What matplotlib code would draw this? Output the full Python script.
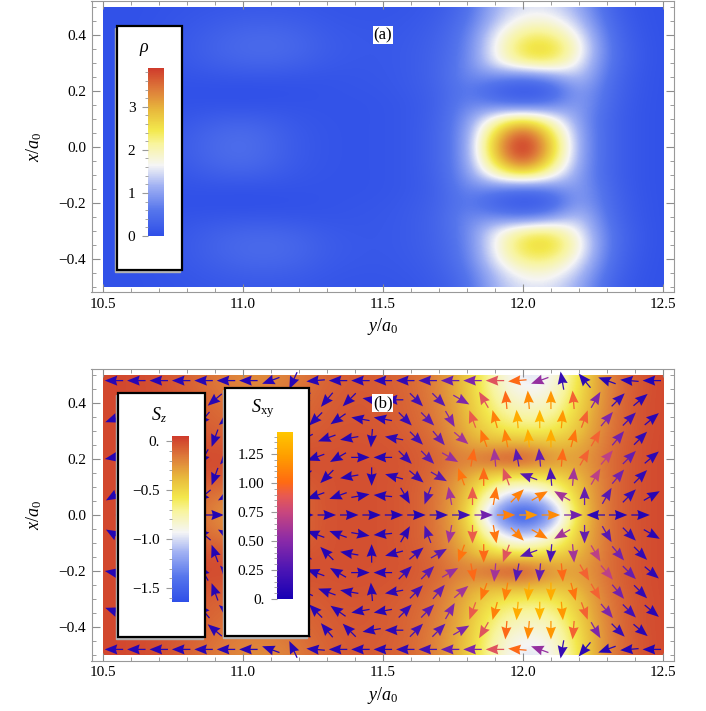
import numpy as np
import matplotlib
matplotlib.use('Agg')
import matplotlib.pyplot as plt
from matplotlib.colors import LinearSegmentedColormap, Normalize
from matplotlib.patches import Rectangle
from matplotlib.ticker import MultipleLocator, FixedLocator

plt.rcParams['font.family'] = ['Liberation Serif', 'DejaVu Serif']
plt.rcParams['mathtext.fontset'] = 'custom'
plt.rcParams['mathtext.rm'] = 'Liberation Serif'
plt.rcParams['mathtext.it'] = 'Liberation Serif:italic'

# ---- field samples (upper half, x = 0.00 ... 0.50 by 0.05) ----
# columns: y = 10.5, 10.6, ..., 12.5
y_cols = [10.5, 10.6, 10.7, 10.8, 10.9, 11.0, 11.1, 11.2, 11.3, 11.4, 11.5,
          11.6, 11.7, 11.8, 11.9, 12.0, 12.1, 12.2, 12.3, 12.4, 12.5]
x_rows = [0.0, 0.05, 0.1, 0.15, 0.2, 0.25, 0.3, 0.35, 0.4, 0.45, 0.5]

rho_upper = [
    [0.05, 0.06, 0.12, 0.25, 0.42, 0.50, 0.35, 0.18, 0.10, 0.08, 0.10, 0.15, 0.35, 0.95, 3.0, 4.3, 2.8, 1.00, 0.35, 0.12, 0.05],
    [0.05, 0.06, 0.11, 0.22, 0.38, 0.45, 0.33, 0.17, 0.10, 0.08, 0.10, 0.15, 0.35, 0.95, 2.7, 3.9, 2.5, 1.00, 0.35, 0.12, 0.05],
    [0.05, 0.05, 0.08, 0.14, 0.24, 0.28, 0.22, 0.13, 0.09, 0.08, 0.10, 0.15, 0.33, 0.90, 1.9, 2.5, 1.8, 0.95, 0.35, 0.12, 0.05],
    [0.05, 0.05, 0.06, 0.07, 0.08, 0.07, 0.08, 0.08, 0.08, 0.08, 0.10, 0.15, 0.30, 0.80, 0.7, 0.5, 0.7, 1.05, 0.40, 0.12, 0.05],
    [0.05, 0.05, 0.05, 0.04, 0.03, 0.02, 0.03, 0.05, 0.08, 0.10, 0.12, 0.18, 0.32, 0.70, 0.25, 0.10, 0.2, 1.10, 0.45, 0.14, 0.05],
    [0.05, 0.05, 0.06, 0.09, 0.12, 0.14, 0.14, 0.12, 0.10, 0.12, 0.14, 0.20, 0.35, 0.80, 0.8, 0.6, 0.9, 1.40, 0.50, 0.15, 0.05],
    [0.05, 0.06, 0.09, 0.16, 0.26, 0.33, 0.34, 0.28, 0.18, 0.14, 0.15, 0.20, 0.35, 0.75, 1.6, 2.2, 2.3, 1.60, 0.60, 0.18, 0.05],
    [0.05, 0.06, 0.10, 0.18, 0.32, 0.42, 0.44, 0.36, 0.22, 0.16, 0.15, 0.20, 0.33, 0.70, 1.7, 2.6, 2.7, 1.80, 0.60, 0.18, 0.05],
    [0.05, 0.06, 0.10, 0.17, 0.28, 0.38, 0.40, 0.33, 0.20, 0.15, 0.14, 0.18, 0.30, 0.65, 1.6, 2.3, 2.3, 1.60, 0.55, 0.15, 0.05],
    [0.05, 0.05, 0.08, 0.13, 0.20, 0.26, 0.27, 0.23, 0.15, 0.12, 0.12, 0.15, 0.25, 0.55, 1.3, 1.8, 1.8, 1.30, 0.45, 0.12, 0.05],
    [0.05, 0.05, 0.07, 0.10, 0.13, 0.16, 0.16, 0.15, 0.11, 0.10, 0.10, 0.12, 0.20, 0.45, 1.2, 1.5, 1.5, 1.10, 0.35, 0.10, 0.05],
]

sz_upper = [
    [0, 0, -0.02, -0.08, -0.20, -0.30, -0.22, -0.10, -0.03, -0.02, -0.03, -0.06, -0.15, -0.45, -1.30, -1.62, -1.30, -0.45, -0.12, -0.03, 0],
    [0, 0, -0.02, -0.07, -0.17, -0.25, -0.20, -0.10, -0.03, -0.02, -0.03, -0.06, -0.15, -0.42, -1.00, -1.30, -1.00, -0.42, -0.12, -0.03, 0],
    [0, 0, -0.02, -0.05, -0.10, -0.13, -0.12, -0.08, -0.03, -0.02, -0.03, -0.06, -0.14, -0.38, -0.75, -0.90, -0.75, -0.40, -0.12, -0.03, 0],
    [0, 0, -0.01, -0.02, -0.03, -0.04, -0.05, -0.04, -0.03, -0.02, -0.03, -0.05, -0.12, -0.30, -0.45, -0.45, -0.45, -0.35, -0.12, -0.03, 0],
    [0, 0, 0, 0, -0.01, -0.01, -0.02, -0.03, -0.03, -0.03, -0.03, -0.05, -0.10, -0.20, -0.05, 0.00, -0.25, -0.30, -0.12, -0.03, 0],
    [0, 0, -0.01, -0.02, -0.04, -0.05, -0.06, -0.05, -0.04, -0.03, -0.04, -0.06, -0.12, -0.30, -0.35, -0.30, -0.40, -0.35, -0.13, -0.03, 0],
    [0, 0, -0.02, -0.04, -0.08, -0.10, -0.10, -0.08, -0.05, -0.04, -0.05, -0.08, -0.15, -0.35, -0.55, -0.60, -0.60, -0.42, -0.15, -0.04, 0],
    [0, 0, -0.02, -0.05, -0.10, -0.13, -0.13, -0.10, -0.06, -0.05, -0.06, -0.09, -0.17, -0.38, -0.65, -0.75, -0.72, -0.45, -0.16, -0.04, 0],
    [0, 0, -0.02, -0.06, -0.12, -0.16, -0.16, -0.12, -0.07, -0.05, -0.06, -0.10, -0.18, -0.40, -0.72, -0.85, -0.82, -0.50, -0.17, -0.04, 0],
    [0, 0, -0.03, -0.07, -0.14, -0.19, -0.19, -0.14, -0.08, -0.06, -0.07, -0.10, -0.20, -0.42, -0.78, -0.95, -0.90, -0.52, -0.18, -0.05, 0],
    [0, 0, -0.03, -0.08, -0.16, -0.22, -0.22, -0.16, -0.09, -0.06, -0.07, -0.11, -0.20, -0.43, -0.80, -1.00, -0.95, -0.55, -0.18, -0.05, 0],
]

# ---- in-plane spin arrows, upper half rows (top row first, last row is x = 0) ----
# angle in degrees (0 = towards +y, 90 = towards +x); even rows 25 arrows, odd rows 24 (staggered)
arrow_angle_upper = [
    [180, 180, 180, 180, 180, 180, 180, 200, 245, 185, 180, 180, 180, 180, 180, 180, 180, 180, 185, 200, 100, 130, 160, 175, 180],
    [200, 210, 220, 230, 220, 200, 190, 200, 230, 230, 225, 170, 180, 315, 315, 330, 120, 95, 95, 90, 95, 60, 45, 40],
    [200, 210, 220, 230, 230, 220, 200, 190, 200, 225, 215, 170, 170, 315, 315, 300, 110, 105, 95, 90, 85, 70, 50, 45, 40],
    [190, 200, 210, 230, 250, 230, 210, 200, 205, 200, 190, 265, 170, 315, 310, 320, 110, 100, 95, 90, 75, 60, 50, 45],
    [190, 200, 210, 220, 240, 230, 210, 200, 200, 200, 210, 0, 180, 315, 315, 330, 80, 95, 100, 95, 85, 60, 50, 45, 40],
    [180, 190, 200, 220, 250, 230, 210, 200, 220, 225, 190, 270, 165, 320, 330, 110, 90, 110, 160, 95, 85, 60, 50, 45],
    [210, 200, 200, 210, 220, 210, 200, 200, 200, 200, 200, 10, 175, 300, 250, 100, 90, 80, 45, 30, 150, 90, 60, 45, 30],
    [0, 0, 0, 0, 0, 0, 0, 0, 0, 0, 0, 0, 0, 0, 0, 0, 0, 0, 0, 0, 0, 180, 0, 0],
]
# |S_xy| of each arrow (sets its colour)
arrow_mag_upper = [
    [0.08, 0.08, 0.08, 0.08, 0.08, 0.08, 0.08, 0.08, 0.08, 0.08, 0.08, 0.08, 0.08, 0.12, 0.20, 0.35, 0.45, 0.85, 1.00, 0.55, 0.15, 0.10, 0.08, 0.06, 0.05],
    [0.08, 0.08, 0.08, 0.08, 0.08, 0.08, 0.08, 0.08, 0.08, 0.08, 0.08, 0.08, 0.10, 0.20, 0.30, 0.45, 0.85, 1.00, 1.15, 1.20, 0.95, 0.45, 0.15, 0.08],
    [0.07, 0.07, 0.07, 0.07, 0.07, 0.07, 0.07, 0.07, 0.07, 0.07, 0.07, 0.07, 0.07, 0.15, 0.30, 0.45, 0.90, 1.10, 1.30, 1.35, 1.20, 0.95, 0.45, 0.20, 0.08],
    [0.07, 0.07, 0.07, 0.07, 0.07, 0.07, 0.07, 0.07, 0.07, 0.07, 0.07, 0.07, 0.10, 0.20, 0.35, 0.60, 1.05, 1.10, 1.30, 1.30, 1.05, 0.95, 0.40, 0.12],
    [0.06, 0.06, 0.06, 0.06, 0.06, 0.06, 0.06, 0.06, 0.06, 0.06, 0.06, 0.06, 0.06, 0.15, 0.30, 0.55, 1.00, 0.60, 0.30, 0.35, 1.00, 0.95, 0.70, 0.35, 0.10],
    [0.06, 0.06, 0.06, 0.06, 0.06, 0.06, 0.06, 0.06, 0.06, 0.06, 0.06, 0.06, 0.08, 0.15, 0.30, 1.05, 1.00, 0.85, 0.30, 0.25, 0.60, 0.70, 0.40, 0.12],
    [0.06, 0.06, 0.06, 0.06, 0.06, 0.06, 0.06, 0.06, 0.06, 0.06, 0.06, 0.06, 0.06, 0.10, 0.25, 0.60, 0.90, 1.05, 1.10, 1.10, 0.60, 0.35, 0.30, 0.15, 0.08],
    [0.05, 0.05, 0.05, 0.05, 0.05, 0.05, 0.05, 0.05, 0.05, 0.05, 0.05, 0.05, 0.05, 0.05, 0.12, 0.20, 0.40, 1.10, 1.20, 1.15, 0.40, 0.10, 0.06, 0.05],
]

rho_ticks = [0, 1, 2, 3]
sz_ticks = [0.0, -0.5, -1.0, -1.5]
sz_labels = ['0.', '\u22120.5', '\u22121.0', '\u22121.5']
sxy_ticks = [0.0, 0.25, 0.5, 0.75, 1.0, 1.25]
sxy_labels = ['0.', '0.25', '0.50', '0.75', '1.00', '1.25']

# ---- colour maps ----
temp_cmap = LinearSegmentedColormap.from_list('temperature', [
    (0.0, '#2f4fe8'), (0.15, '#5575ec'), (0.30, '#a2b2f3'), (0.42, '#f5f5f5'),
    (0.55, '#f8f49c'), (0.63, '#f3e84c'), (0.75, '#e8b93c'), (0.87, '#de7d3a'),
    (1.0, '#cf3b2c')])
sxy_cmap = LinearSegmentedColormap.from_list('sxy', [
    (0.0, '#1800b4'), (0.17, '#4a14b4'), (0.35, '#8a2aa8'), (0.52, '#c8467e'),
    (0.62, '#e85a50'), (0.70, '#ff6a12'), (0.85, '#ff9c00'), (1.0, '#ffc600')])
rho_norm = Normalize(0, 3.9)
sz_norm = Normalize(-1.64, 0.05)
sxy_norm = Normalize(0, 1.44)

W, H = 706, 711
fig = plt.figure(figsize=(W / 100, H / 100), dpi=100)


def fig_box(x0, y0, x1, y1):
    return [x0 / W, 1 - y1 / H, (x1 - x0) / W, (y1 - y0) / H]


def mirror(upper):
    upper = np.asarray(upper, dtype=float)
    return np.vstack([upper[::-1], upper[1:]])


def style_axes(ax):
    ax.set_xlim(10.46, 12.54)
    ax.set_ylim(-0.52, 0.52)
    ax.xaxis.set_major_locator(FixedLocator([10.5, 11.0, 11.5, 12.0, 12.5]))
    ax.set_xticklabels(['10.5', '11.0', '11.5', '12.0', '12.5'])
    ax.xaxis.set_minor_locator(MultipleLocator(0.1))
    ax.yaxis.set_major_locator(FixedLocator([-0.4, -0.2, 0.0, 0.2, 0.4]))
    ax.set_yticklabels(['\u22120.4', '\u22120.2', '0.0', '0.2', '0.4'])
    ax.yaxis.set_minor_locator(MultipleLocator(0.05))
    ax.tick_params(which='both', direction='in', top=True, right=True,
                   color='0.55', labelsize=11, pad=4)
    ax.tick_params(which='major', length=6)
    ax.tick_params(which='minor', length=3)
    for s in ax.spines.values():
        s.set_color('0.6')
    ax.set_xlabel(r'$y/a_0$', fontsize=13, labelpad=4)
    ax.set_ylabel(r'$x/a_0$', fontsize=13, labelpad=10)


def field_image(ax, values, cmap, norm):
    ext = (y_cols[0] - 0.05, y_cols[-1] + 0.05, -x_rows[-1] - 0.025, x_rows[-1] + 0.025)
    im = ax.imshow(mirror(values), extent=ext, origin='upper', cmap=cmap, norm=norm,
                   interpolation='bicubic', interpolation_stage='data', aspect='auto')
    im.set_clip_path(Rectangle((10.5, -0.5), 2.0, 1.0, transform=ax.transData))
    return im


def legend_box(x0, y0, x1, y1):
    fig.add_artist(Rectangle(((x0 - 2) / W, 1 - (y1 + 2) / H), (x1 - x0) / W, (y1 - y0) / H,
                             transform=fig.transFigure, fc='0.7', ec='0.7', lw=1, zorder=4))
    fig.add_artist(Rectangle((x0 / W, 1 - y1 / H), (x1 - x0) / W, (y1 - y0) / H,
                             transform=fig.transFigure, fc='white', ec='black', lw=1.6, zorder=4.5))


def colorbar(box, mappable, ticks, labels, minor):
    cax = fig.add_axes(fig_box(*box))
    cax.set_zorder(5)
    cb = fig.colorbar(mappable, cax=cax)
    cb.outline.set_visible(False)
    cax.yaxis.set_ticks_position('left')
    cax.yaxis.set_label_position('left')
    cb.set_ticks(ticks)
    cb.set_ticklabels(labels)
    cax.yaxis.set_minor_locator(MultipleLocator(minor))
    cax.tick_params(which='both', colors='0.6', labelcolor='black', labelsize=11,
                    direction='out', pad=5)
    cax.tick_params(which='major', length=4)
    cax.tick_params(which='minor', length=2)
    return cb


# ---- panel (a): density ----
ax_a = fig.add_axes(fig_box(91.5, 1.4, 674.2, 292.3))
im_rho = field_image(ax_a, rho_upper, temp_cmap, rho_norm)
style_axes(ax_a)
ax_a.text(11.5, 0.4, '(a)', ha='center', va='center', fontsize=12,
          bbox=dict(fc='white', ec='none', pad=0.5))

# ---- panel (b): S_z with in-plane arrows ----
ax_b = fig.add_axes(fig_box(91.5, 369.4, 674.2, 660.6))
im_sz = field_image(ax_b, sz_upper, temp_cmap, sz_norm)
style_axes(ax_b)

even_cols = 10.54 + 0.08 * np.arange(25)
odd_cols = 10.58 + 0.08 * np.arange(24)
row_x = np.linspace(0.48, -0.48, 15)
ay, ax_, ang, mag = [], [], [], []
for i, xr in enumerate(row_x):
    j = i if i <= 7 else 14 - i
    sign = 1 if i <= 7 else -1
    cols = even_cols if j % 2 == 0 else odd_cols
    ay.extend(cols)
    ax_.extend([xr] * len(cols))
    ang.extend(sign * np.asarray(arrow_angle_upper[j], dtype=float))
    mag.extend(arrow_mag_upper[j])
ang = np.radians(ang)
ax_b.quiver(ay, ax_, np.cos(ang), np.sin(ang), mag, cmap=sxy_cmap, norm=sxy_norm,
            pivot='middle', angles='xy', scale_units='xy', scale=1 / 0.066,
            units='xy', width=0.0045, headwidth=8, headlength=10,
            headaxislength=9, zorder=3)
ax_b.text(11.5, 0.4, '(b)', ha='center', va='center', fontsize=12, zorder=4,
          bbox=dict(fc='white', ec='none', pad=0.5))

# ---- legends ----
legend_box(117, 26, 182, 270)
colorbar((148, 68, 164, 236), im_rho, rho_ticks, [str(t) for t in rho_ticks], 0.2)
fig.text(144 / W, 1 - 49 / H, r'$\rho$', ha='center', va='center', fontsize=13, zorder=6)

legend_box(118, 393, 205, 637)
colorbar((172, 436, 189, 602), im_sz, sz_ticks, sz_labels, 0.1)
fig.text(159 / W, 1 - 415 / H, r'$S_z$', ha='center', va='center', fontsize=13, zorder=6)

sxy_mappable = plt.cm.ScalarMappable(norm=sxy_norm, cmap=sxy_cmap)
legend_box(225, 388, 309, 636)
colorbar((277, 432, 293, 599), sxy_mappable, sxy_ticks, sxy_labels, 0.05)
fig.text(263 / W, 1 - 409 / H, r'$S_{\mathrm{xy}}$', ha='center', va='center', fontsize=13, zorder=6)

fig.savefig('out.png', dpi=100)
